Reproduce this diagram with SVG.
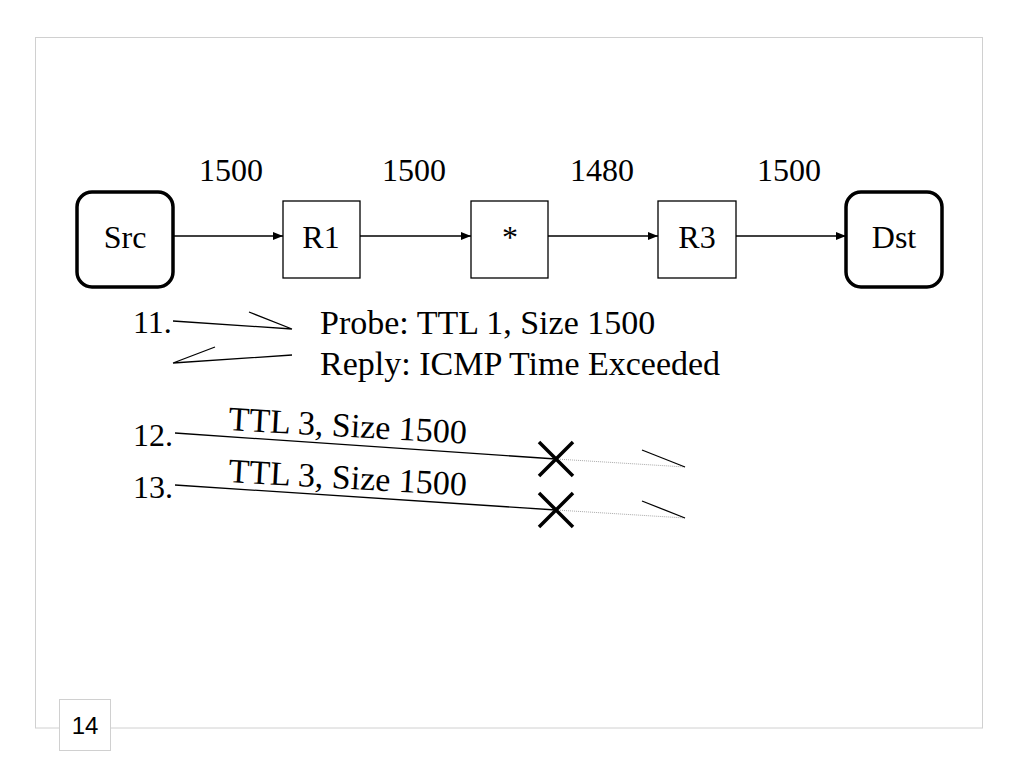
<svg xmlns="http://www.w3.org/2000/svg" width="1024" height="768" viewBox="0 0 1024 768">
<defs>
<style>
.t{font-family:"Liberation Serif","Times New Roman",serif;font-size:32px;fill:#000}
.s{font-size:34px}
.c{text-anchor:middle}
.box{fill:#fff;stroke:#000;stroke-width:1.3}
.rbox{fill:#fff;stroke:#000;stroke-width:3.5}
.ln{stroke:#000;stroke-width:1.3;fill:none}
.dot{stroke:#aaa;stroke-width:1;stroke-dasharray:1 1;fill:none}
.x{stroke:#000;stroke-width:3.5;fill:none}
</style>
<marker id="ah" markerWidth="10" markerHeight="8" refX="10" refY="4" orient="auto" markerUnits="userSpaceOnUse">
<path d="M0,0 L10,4 L0,8 Z" fill="#000"/>
</marker>
</defs>
<rect width="1024" height="768" fill="#fff"/>
<rect x="35.5" y="37.5" width="947" height="690.5" fill="none" stroke="#d0d0d0" stroke-width="1"/>
<g id="page-number">
<rect x="59.5" y="699.5" width="51" height="51" fill="#fff" stroke="#d0d0d0" stroke-width="1"/>
<text x="85" y="734" font-family="Liberation Sans,Arial,sans-serif" font-size="24" text-anchor="middle">14</text>
</g>
<g id="mtu-labels">
<text class="t c" x="231" y="181">1500</text>
<text class="t c" x="414" y="181">1500</text>
<text class="t c" x="602" y="181">1480</text>
<text class="t c" x="789" y="181">1500</text>
</g>
<g id="connectors">
<line class="ln" x1="173" y1="236" x2="283" y2="236" marker-end="url(#ah)"/>
<line class="ln" x1="360" y1="236" x2="471" y2="236" marker-end="url(#ah)"/>
<line class="ln" x1="548" y1="236" x2="658" y2="236" marker-end="url(#ah)"/>
<line class="ln" x1="736" y1="236" x2="846" y2="236" marker-end="url(#ah)"/>
</g>
<g id="src"><rect class="rbox" x="77" y="192" width="96" height="95" rx="15"/><text class="t c" x="125" y="248">Src</text></g>
<g id="r1"><rect class="box" x="283" y="201" width="77" height="77"/><text class="t c" x="321" y="248">R1</text></g>
<g id="star"><rect class="box" x="471" y="201" width="77" height="77"/><text class="t c" x="510" y="248">*</text></g>
<g id="r3"><rect class="box" x="658" y="201" width="78" height="77"/><text class="t c" x="697" y="248">R3</text></g>
<g id="dst"><rect class="rbox" x="846" y="192" width="96" height="95" rx="15"/><text class="t c" x="894" y="248">Dst</text></g>
<g id="step11">
<text class="t" x="133" y="333">11.</text>
<path class="ln" d="M173,321 L292,329 M249,312 L292,329"/>
<path class="ln" d="M292,355 L173,363 M215,347 L173,363"/>
<text class="t s" x="320" y="334">Probe: TTL 1, Size 1500</text>
<text class="t s" x="320" y="375">Reply: ICMP Time Exceeded</text>
</g>
<g id="step12">
<text class="t" x="133" y="446">12.</text>
<line class="ln" x1="175" y1="433" x2="556" y2="459"/>
<text class="t s" transform="translate(228,430) rotate(3.3)">TTL 3, Size 1500</text>
<line class="dot" x1="556" y1="459" x2="685" y2="467"/>
<line class="ln" x1="642" y1="450" x2="685" y2="467"/>
<path class="x" d="M539,442 L573,476 M573,442 L539,476"/>
</g>
<g id="step13">
<text class="t" x="133" y="498">13.</text>
<line class="ln" x1="175" y1="485" x2="556" y2="510"/>
<text class="t s" transform="translate(228,482) rotate(3.3)">TTL 3, Size 1500</text>
<line class="dot" x1="556" y1="510" x2="685" y2="518"/>
<line class="ln" x1="642" y1="501" x2="685" y2="518"/>
<path class="x" d="M539,493 L573,527 M573,493 L539,527"/>
</g>
</svg>
